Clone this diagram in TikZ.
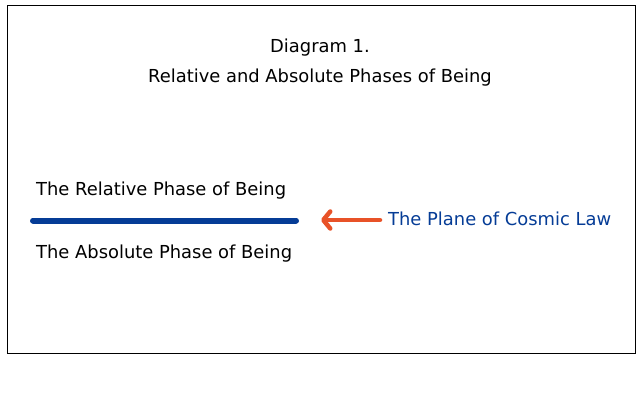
\documentclass[tikz,border=0pt]{standalone}
\usepackage{fontspec}
\setmainfont{DejaVu Sans}
\usepackage{tikz}
\usetikzlibrary{positioning}
\usetikzlibrary{arrows.meta}
\definecolor{lawblue}{RGB}{5,60,150}
\definecolor{arroworange}{RGB}{232,82,40}

\begin{document}
\begin{tikzpicture}[x=1pt, y=-1pt,
every node/.style = {inner sep = 0pt, font = \fontsize{17.9}{21}\selectfont},
  phase/.style = {anchor = base west},
  plane/.style = {line width = 6pt, lawblue, line cap = round},
  pointer/.style = {line width = 4.5pt, arroworange, line cap = round,
    -{Straight Barb[length = 7pt, width = 17pt, round]}}
]
\useasboundingbox (0,0) rectangle (640,400);
\draw[line width = 1pt] (7.5,5.5) rectangle (635,353);

\node[anchor = base] (title) at (320,52) {Diagram 1.};
\node[anchor = base] (sub) at (320,82) {Relative and Absolute Phases of Being};

\node[phase] (rel) at (36,195) {The Relative Phase of Being};
\node[phase] (abs) at (36,258) {The Absolute Phase of Being};
\node[phase, text = lawblue] (law) at (388,225) {The Plane of Cosmic Law};

\coordinate (left) at (33,220.5);
\coordinate (right) at (296,220.5);
\coordinate (tip) at (321,220);
\draw[plane] (left) -- (right);
    % \draw[dashed] (rel) -- (abs);
\draw[pointer] (law.west |- tip) ++(-8,0) coordinate (tail) -- (tip);

\end{tikzpicture}
\end{document}
